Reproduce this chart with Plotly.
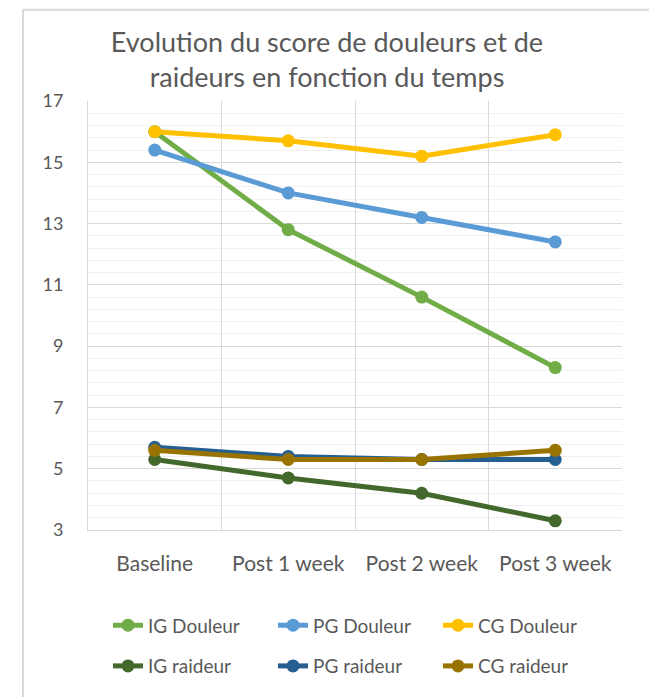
import plotly.graph_objects as go

categories = ["Baseline", "Post 1 week", "Post 2 week", "Post 3 week"]
ig_douleur = [16.0, 12.8, 10.6, 8.3]
pg_douleur = [15.4, 14.0, 13.2, 12.4]
cg_douleur = [16.0, 15.7, 15.2, 15.9]
ig_raideur = [5.3, 4.7, 4.2, 3.3]
pg_raideur = [5.7, 5.4, 5.3, 5.3]
cg_raideur = [5.6, 5.3, 5.3, 5.6]

series = [
    ("IG Douleur", ig_douleur, "#70AD47", "legend"),
    ("PG Douleur", pg_douleur, "#5B9BD5", "legend"),
    ("CG Douleur", cg_douleur, "#FFC000", "legend"),
    ("IG raideur", ig_raideur, "#43682B", "legend2"),
    ("PG raideur", pg_raideur, "#255E91", "legend2"),
    ("CG raideur", cg_raideur, "#997300", "legend2"),
]

# page has an 8px body margin; figure coords = page coords - 8
OFF = 8
W, H = 649, 689
L, R, T, B = 80, 35, 93, 164
pw, ph = W - L - R, H - T - B

def px_x(v):  # page px -> paper x
    return (v - OFF - L) / pw

def px_y(v):  # page px -> paper y
    return (H - B - (v - OFF)) / ph

fig = go.Figure()
for name, vals, color, lg in series:
    fig.add_trace(go.Scatter(
        x=categories, y=vals, mode="lines+markers", name=name,
        line=dict(color=color, width=5),
        marker=dict(color=color, size=13),
        legend=lg,
    ))

font_family = "Lato, 'Open Sans', sans-serif"
txt = "#595959"

leg_common = dict(
    orientation="h", xanchor="left", yanchor="middle",
    font=dict(family=font_family, size=19, color=txt),
    bgcolor="rgba(0,0,0,0)", entrywidth=120, entrywidthmode="pixels",
    itemclick=False,
)

fig.update_layout(
    width=W, height=H,
    margin=dict(l=L, r=R, t=T, b=B),
    paper_bgcolor="white", plot_bgcolor="white",
    font=dict(family=font_family, color=txt),
    title=dict(
        text="Evolution du score de douleurs et de<br>raideurs en fonction du temps",
        font=dict(family=font_family, size=27, color=txt),
        x=(327 - OFF) / W, xref="container", xanchor="center",
        y=1 - 44 / H, yref="container", yanchor="top",
    ),
    xaxis=dict(
        type="category", range=[-0.5, 3.5], tickson="boundaries",
        showgrid=True, gridcolor="#D9D9D9", gridwidth=1,
        showline=True, linecolor="#D9D9D9", linewidth=1,
        ticks="", tickfont=dict(family=font_family, size=21, color=txt),
        ticklabelstandoff=15, fixedrange=True,
    ),
    yaxis=dict(
        range=[3, 17], tick0=3, dtick=2,
        showgrid=True, gridcolor="#D9D9D9", gridwidth=1,
        minor=dict(tick0=3, dtick=0.4, showgrid=True, gridcolor="#F0F0F0", gridwidth=1),
        showline=True, linecolor="#D9D9D9", linewidth=1, zeroline=False,
        ticks="", tickfont=dict(family=font_family, size=18, color=txt),
        ticklabelstandoff=20, fixedrange=True,
    ),
    legend=dict(x=px_x(108), y=px_y(629), **leg_common),
    legend2=dict(x=px_x(108), y=px_y(670), **leg_common),
    shapes=[dict(
        type="rect", xref="paper", yref="paper",
        x0=px_x(23), x1=px_x(652), y0=px_y(720), y1=px_y(9),
        line=dict(color="#D9D9D9", width=2), fillcolor="rgba(0,0,0,0)",
        layer="below",
    )],
)

fig.write_html("out.html")
